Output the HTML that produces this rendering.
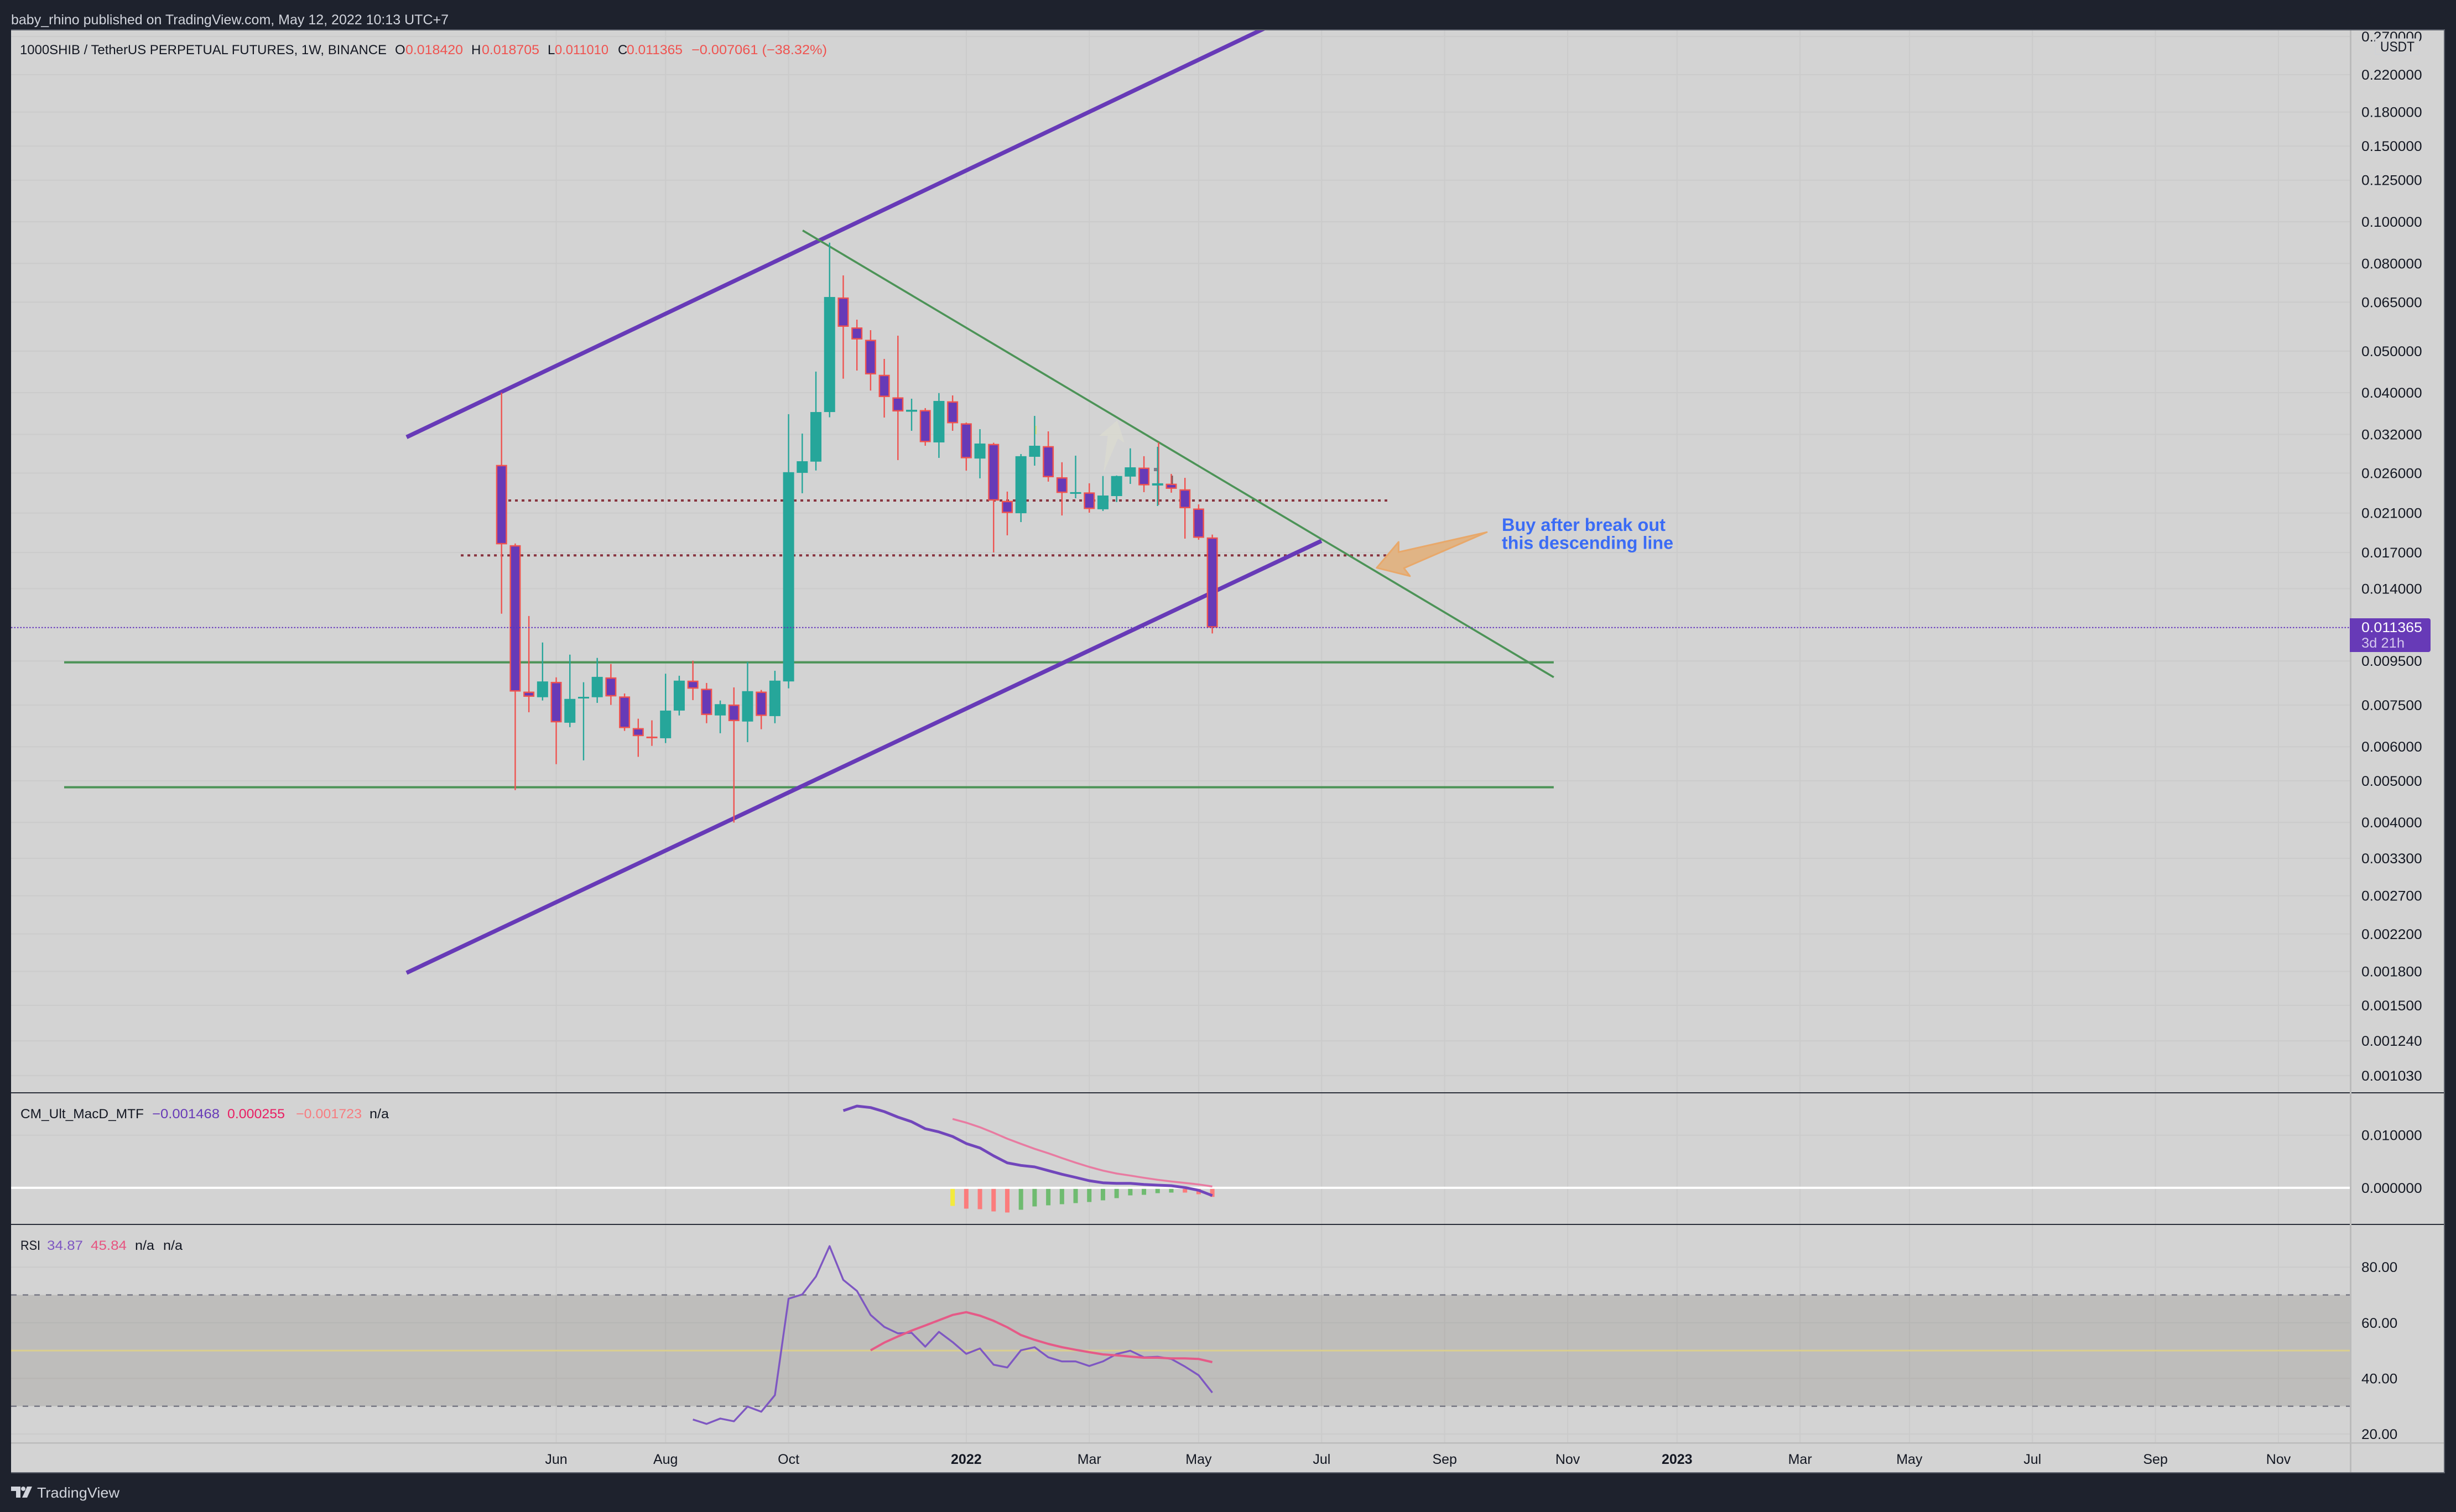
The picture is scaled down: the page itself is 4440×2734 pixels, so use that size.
<!DOCTYPE html>
<html lang="en">
<head>
<meta charset="utf-8">
<title>1000SHIB / TetherUS weekly chart</title>
<style>
html,body{margin:0;padding:0;background:#1e222d;width:4440px;height:2734px;overflow:hidden}
svg{display:block;font-family:"Liberation Sans",sans-serif}
text{white-space:pre}
</style>
</head>
<body>
<svg id="chart" xmlns="http://www.w3.org/2000/svg" width="4440" height="2734" viewBox="0 0 4440 2734">
  <defs>
    <clipPath id="main-clip"><rect x="20" y="55" width="4228" height="1920"/></clipPath>
  </defs>
  <rect x="0" y="0" width="4440" height="2734" fill="#1e222d"/>
  <text x="20" y="44" font-size="25" fill="#d1d4dc" textLength="791" lengthAdjust="spacingAndGlyphs">baby_rhino published on TradingView.com, May 12, 2022 10:13 UTC+7</text>
  <rect x="20" y="54" width="4399" height="2609" fill="#d3d3d3"/>
  <g id="grid"></g>
  <g id="rsi-band-layer"></g>
  <g id="drawings" clip-path="url(#main-clip)"></g>
  <polygon points="1995,855 2002.6,788 1987,788 2019.8,760 2033,800.7 2021,793" fill="#dcdbd0" opacity="0.7"/>
  <polygon points="2687.9,962.3 2528.4,998.3 2528.4,980 2488.9,1026.7 2548.9,1041.7 2538,1027.3" fill="#e0b485" stroke="#e8a86a" stroke-width="3" stroke-linejoin="round"/>
  <text x="2715" y="960" font-size="32" font-weight="bold" fill="#3b6cf5" textLength="296" lengthAdjust="spacingAndGlyphs">Buy after break out</text>
  <text x="2715" y="992.5" font-size="32" font-weight="bold" fill="#3b6cf5" textLength="310" lengthAdjust="spacingAndGlyphs">this descending line</text>
  <g id="candles"></g>
  <rect x="2086" y="846" width="6" height="6" fill="#7c7c88"/>
  <rect x="2118" y="860" width="2.5" height="15" fill="#86585c"/>
  <rect x="1872" y="770" width="1.5" height="15" fill="#e6e24a"/>
  <g id="macd"></g>
  <g id="rsi"></g>
  <g id="price-line-layer"></g>

  <rect x="20" y="1975" width="4399" height="2" fill="#2a2e39"/>
  <rect x="20" y="2213" width="4399" height="2" fill="#2a2e39"/>
  <rect x="4248" y="54" width="3" height="2609" fill="#bbbbbb"/>
  <rect x="20" y="2608" width="4399" height="2.5" fill="#bbbbbb"/>
  <rect x="20" y="53" width="4400" height="2" fill="#5b5f6a"/>
  <rect x="4418" y="54" width="2" height="2610" fill="#5b5f6a"/>
  <rect x="20" y="2662" width="4400" height="2" fill="#5b5f6a"/>

  <g id="axis-labels"></g>

  <rect x="4252" y="0" width="188" height="53" fill="#1e222d"/>
  <rect x="4294" y="70" width="79" height="28" fill="#d3d3d3" stroke="#cfd0d8" stroke-width="1"/>
  <text x="4303" y="93" font-size="25" fill="#131722" textLength="62" lengthAdjust="spacingAndGlyphs">USDT</text>
  <path d="M4248 1118H4390a4 4 0 0 1 4 4V1175a4 4 0 0 1 -4 4H4248Z" fill="#673ab7"/>
  <text x="4269" y="1143" font-size="25" fill="#ffffff" textLength="110" lengthAdjust="spacingAndGlyphs">0.011365</text>
  <text x="4269" y="1171" font-size="25" fill="#d5c8ee" textLength="78" lengthAdjust="spacingAndGlyphs">3d 21h</text>

  <g font-size="24">
    <text x="36" y="98" fill="#131722" textLength="663" lengthAdjust="spacingAndGlyphs">1000SHIB / TetherUS PERPETUAL FUTURES, 1W, BINANCE</text>
    <text x="714" y="98" fill="#131722">O</text>
    <text x="733" y="98" fill="#ef5350" textLength="104" lengthAdjust="spacingAndGlyphs">0.018420</text>
    <text x="852" y="98" fill="#131722">H</text>
    <text x="871" y="98" fill="#ef5350" textLength="104" lengthAdjust="spacingAndGlyphs">0.018705</text>
    <text x="990" y="98" fill="#131722">L</text>
    <text x="1003" y="98" fill="#ef5350" textLength="97" lengthAdjust="spacingAndGlyphs">0.011010</text>
    <text x="1117" y="98" fill="#131722">C</text>
    <text x="1133" y="98" fill="#ef5350" textLength="101" lengthAdjust="spacingAndGlyphs">0.011365</text>
    <text x="1250" y="98" fill="#ef5350" textLength="245" lengthAdjust="spacingAndGlyphs">−0.007061 (−38.32%)</text>
  </g>
  <g font-size="24">
    <text x="37" y="2022" fill="#131722" textLength="223" lengthAdjust="spacingAndGlyphs">CM_Ult_MacD_MTF</text>
    <text x="275" y="2022" fill="#673ab7" textLength="122" lengthAdjust="spacingAndGlyphs">−0.001468</text>
    <text x="411" y="2022" fill="#e91e63" textLength="104" lengthAdjust="spacingAndGlyphs">0.000255</text>
    <text x="535" y="2022" fill="#f77c80" textLength="119" lengthAdjust="spacingAndGlyphs">−0.001723</text>
    <text x="668" y="2022" fill="#131722" textLength="35" lengthAdjust="spacingAndGlyphs">n/a</text>
  </g>
  <g font-size="24">
    <text x="37" y="2260" fill="#131722" textLength="36" lengthAdjust="spacingAndGlyphs">RSI</text>
    <text x="85" y="2260" fill="#7e57c2" textLength="65" lengthAdjust="spacingAndGlyphs">34.87</text>
    <text x="164" y="2260" fill="#e75480" textLength="65" lengthAdjust="spacingAndGlyphs">45.84</text>
    <text x="244" y="2260" fill="#131722" textLength="35" lengthAdjust="spacingAndGlyphs">n/a</text>
    <text x="295" y="2260" fill="#131722" textLength="35" lengthAdjust="spacingAndGlyphs">n/a</text>
  </g>
  <g>
    <path d="M20 2688H37V2708H29V2696H20Z M49 2688H58L49 2708H40Z" fill="#d1d4dc"/>
    <circle cx="42" cy="2692" r="4" fill="#d1d4dc"/>
    <text x="67" y="2708" font-size="26" fill="#d1d4dc" textLength="149" lengthAdjust="spacingAndGlyphs">TradingView</text>
  </g>
</svg>

<script>
const opens=[.02717,.01767,.008063,.007823,.008494,.006823,.007772,.007823,.0087,.007857,.006631,.006335,.006279,.007283,.00855,.008187,.007095,.007523,.006867,.008063,.00707,.008514,.02604,.02765,.03607,.06665,.05677,.05313,.04404,.03903,.03613,.03646,.03065,.03821,.03396,.02811,.03041,.02241,.02097,.02838,.03005,.02543,.02334,.02345,.02142,.02299,.02552,.02678,.02433,.02457,.02384,.02151,.01842];
const highs=[.04002,.01783,.01209,.01049,.008702,.009829,.008477,.009658,.009348,.007981,.006972,.006912,.008874,.008777,.009514,.008444,.007687,.008246,.009451,.008134,.009014,.03566,.03214,.0448,.0894,.07502,.05918,.05594,.04795,.05431,.03874,.03684,.03993,.03943,.0341,.03291,.0306,.02355,.0288,.03533,.03252,.02756,.02855,.02462,.0256,.02567,.02969,.02847,.02994,.02589,.02535,.02199,.018705];
const lows=[.01224,.004755,.007218,.007687,.005465,.006663,.005577,.00759,.007507,.006532,.005684,.006027,.006119,.007095,.007703,.006806,.00645,.003996,.00615,.00659,.006806,.008204,.02334,.02637,.03507,.04313,.04505,.04047,.03502,.02788,.03262,.03011,.02821,.03262,.02635,.02528,.016995,.01863,.02,.02706,.02484,.02072,.02272,.02103,.02123,.02227,.02454,.02348,.0218,.02341,.0183,.01819,.01101];
const closes=[.01775,.008063,.00784,.008514,.006837,.007753,.00784,.008725,.007857,.006631,.00635,.006298,.007283,.00855,.008187,.007112,.007538,.006883,.008082,.007078,.00855,.02613,.02771,.03607,.06682,.05695,.05321,.04413,.03909,.03618,.03651,.03069,.03828,.03396,.02815,.03047,.02244,.02099,.02847,.03011,.02543,.02338,.02348,.02145,.02306,.0256,.02682,.02435,.02462,.0239,.02154,.01838,.011365];

const priceTicks=[0.27,0.22,0.18,0.15,0.125,0.1,0.08,0.065,0.05,0.04,0.032,0.026,0.021,0.017,0.014,0.0095,0.0075,0.006,0.005,0.004,0.0033,0.0027,0.0022,0.0018,0.0015,0.00124,0.00103];
const timeLabels=['Jun','Aug','Oct','2022','Mar','May','Jul','Sep','Nov','2023','Mar','May','Jul','Sep','Nov'];
const timeTickBars=[4,12,21,34,43,51,60,69,78,86,95,103,112,121,130];
const macdTicks=[0.01,0];
const rsiTicks=[80,60,40,20];
const lastPrice=0.011365;

const macdStartBar=25;
const macdValues=[.014665,.015541,.015261,.01449,.013438,.012562,.01123,.010634,.009758,.008426,.007585,.006078,.004746,.004255,.003975,.003274,.002573,.001977,.001346,.00096,.000855,.000855,.000645,.000505,.0004,.00005,-.000476,-.001468];
const signalStartBar=33;
const signalValues=[.013088,.012387,.011511,.01046,.009338,.008356,.00741,.006569,.005657,.004781,.003975,.003274,.002713,.002327,.001906,.001522,.001206,.000925,.000645,.000255];
const histStartBar=33;
const histValues=[-.003435,-.003961,-.004066,-.004487,-.004697,-.004171,-.00354,-.00333,-.00312,-.002909,-.002699,-.002383,-.001963,-.001437,-.001332,-.001016,-.000911,-.000911,-.001227,-.001723];
const histStates=['y','s','s','s','s','g','g','g','g','g','g','g','g','g','g','g','g','s','s','s'];

const rsiStartBar=14;
const rsiValues=[25.23,23.64,25.57,24.57,29.87,28.02,33.98,68.64,70.17,76.59,87.53,75.4,71.43,62.81,58.5,56.18,56.38,51.41,56.71,53.07,48.83,50.75,44.92,43.92,50.09,51.21,47.57,46.11,46.11,44.45,46.11,48.76,49.95,47.57,47.77,46.97,44.25,41.14,34.87];
const rsiMaStartBar=27;
const rsiMaValues=[50.09,52.87,55.06,57.18,59.03,60.89,62.81,63.8,62.54,60.69,58.37,55.59,53.86,52.41,51.21,50.28,49.42,48.63,48.3,47.83,47.44,47.44,47.17,47.17,46.97,45.84];
const rsiBandLevels=[70,30];
const rsiMidLevel=50;

const upperChannelBars=[-6.95,56.4];
const upperChannelPrices=[.03153,.2877];
const lowerChannelBars=[-6.95,59.98];
const lowerChannelPrices=[.001786,.01808];
const descendingLineBars=[22.03,76.98];
const descendingLinePrices=[.09545,.008707];
const supportLevels=[.009431,.004829];
const supportBars=[-32,76.98];
const dottedLevels=[.02245,.01673];
const dottedStartBars=[.5,-2.98];
const dottedEndBar=64.8;
const ghostWickBar=48.07;
const ghostWickPrices=[.03065,.02193];

function xOf(bar){return 906.7+24.71*bar;}
function yOf(price){return 401+337.4*Math.log(0.1/price);}
function yMacd(v){return 2147.8-v*9510;}
function yRsi(v){return 2593-(v-20)*5.03;}

const NS='http://www.w3.org/2000/svg';
function mk(tag,attrs,parent){
  const el=document.createElementNS(NS,tag);
  for(const k in attrs){el.setAttribute(k,attrs[k]);}
  parent.appendChild(el);
  return el;
}
const gridG=document.getElementById('grid');
const bandG=document.getElementById('rsi-band-layer');
const drawG=document.getElementById('drawings');
const candleG=document.getElementById('candles');
const macdG=document.getElementById('macd');
const rsiG=document.getElementById('rsi');
const plG=document.getElementById('price-line-layer');
const axisG=document.getElementById('axis-labels');
const GRID='#cbcbcb';
const AXIS_TEXT='#131722';

function numWidth(s){return (s.length-1)*14.8+6;}

priceTicks.forEach(function(p){
  const y=yOf(p);
  const line=mk('rect',{x:20,y:y-1,width:4228,height:2,fill:GRID},gridG);
  
  
  const label=p.toFixed(6);
  const t=mk('text',{x:4269,y:y+9,'font-size':25,fill:AXIS_TEXT,textLength:numWidth(label),lengthAdjust:'spacingAndGlyphs'},axisG);
  t.textContent=label;
  
  
});
macdTicks.forEach(function(v){
  const y=yMacd(v);
  const line=mk('rect',{x:20,y:y-1,width:4228,height:2,fill:GRID},gridG);
  
  
  const label=v.toFixed(6);
  const t=mk('text',{x:4269,y:y+9,'font-size':25,fill:AXIS_TEXT,textLength:numWidth(label),lengthAdjust:'spacingAndGlyphs'},axisG);
  t.textContent=label;
  
  
});
rsiTicks.forEach(function(v){
  const y=yRsi(v);
  const line=mk('rect',{x:20,y:y-1,width:4228,height:2,fill:GRID},gridG);
  
  
  const label=v.toFixed(2);
  const t=mk('text',{x:4269,y:y+9,'font-size':25,fill:AXIS_TEXT,textLength:numWidth(label),lengthAdjust:'spacingAndGlyphs'},axisG);
  t.textContent=label;
  
  
});
timeTickBars.forEach(function(b,i){
  const x=xOf(b);
  const line=mk('rect',{x:x-1,y:54,width:2,height:2554,fill:GRID},gridG);
  
  
  const isYear=/^\d/.test(timeLabels[i]);
  const t=mk('text',{x:x,y:2647,'font-size':25,fill:AXIS_TEXT,'text-anchor':'middle','font-weight':isYear?'bold':'normal'},axisG);
  t.textContent=timeLabels[i];
  
  
});

/* RSI band */
const band=mk('rect',{x:20,y:yRsi(rsiBandLevels[0]),width:4228,height:yRsi(rsiBandLevels[1])-yRsi(rsiBandLevels[0]),fill:'rgba(101,96,86,0.19)'},bandG);


rsiBandLevels.forEach(function(v){
  const l=mk('line',{x1:20,x2:4248,y1:yRsi(v),y2:yRsi(v),stroke:'#777884','stroke-width':2.5,'stroke-dasharray':'10 11'},bandG);
  
  
});
const mid=mk('rect',{x:20,y:yRsi(rsiMidLevel)-1.5,width:4228,height:3,fill:'#dbcf8e'},bandG);



/* drawings */
function drawLine(bars,prices,color,w){
  return mk('line',{x1:xOf(bars[0]),y1:yOf(prices[0]),x2:xOf(bars[1]),y2:yOf(prices[1]),stroke:color,'stroke-width':w},drawG);
}
supportLevels.forEach(function(p){
  const l=drawLine(supportBars,[p,p],'#4c9357',4);
  
  
});
dottedLevels.forEach(function(p,i){
  const l=drawLine([dottedStartBars[i],dottedEndBar],[p,p],'#88343f',4);
  l.setAttribute('stroke-dasharray','5 7');
  
  
});
const upLine=drawLine(upperChannelBars,upperChannelPrices,'#673ab7',7.5);


const lowLine=drawLine(lowerChannelBars,lowerChannelPrices,'#673ab7',7.5);


const descLine=drawLine(descendingLineBars,descendingLinePrices,'#4c9357',3.6);



/* ghost wick sits beneath the candles */
const ghost=mk('rect',{x:xOf(ghostWickBar)-1.2,y:yOf(ghostWickPrices[0]),width:2.4,height:yOf(ghostWickPrices[1])-yOf(ghostWickPrices[0]),fill:'#ef5350'},candleG);



/* candles */
opens.forEach(function(o,i){
  const c=closes[i],x=xOf(i),up=c>=o;
  const wickColor=up?'#26a69a':'#ef5350';
  const wick=mk('rect',{x:x-1.2,y:yOf(highs[i]),width:2.4,height:yOf(lows[i])-yOf(highs[i]),fill:wickColor},candleG);
  
  
  const top=yOf(Math.max(o,c)),bot=yOf(Math.min(o,c));
  let h=Math.max(bot-top,3);
  let body;
  if(up){
    body=mk('rect',{x:x-10,y:top,width:20,height:h,fill:'#26a69a'},candleG);
  }else if(h<=5){
    body=mk('rect',{x:x-10,y:top,width:20,height:h,fill:'#ef5350'},candleG);
  }else{
    body=mk('rect',{x:x-8.75,y:top+1.25,width:17.5,height:h-2.5,fill:'#673ab7',stroke:'#ef5350','stroke-width':2.5},candleG);
  }
  
  
});

/* last price line */
const pl=mk('line',{x1:20,x2:4248,y1:yOf(lastPrice),y2:yOf(lastPrice),stroke:'#5f30bd','stroke-width':2,'stroke-dasharray':'2.5 3'},plG);



/* MACD */
const zero=mk('rect',{x:20,y:yMacd(0)-2,width:4228,height:4,fill:'#ffffff'},macdG);


const histColors={y:'#f3ea3c',s:'#fb7c7c',g:'#6fbb70'};
histValues.forEach(function(v,i){
  const x=xOf(histStartBar+i);
  const r=mk('rect',{x:x-4,y:yMacd(0)+2,width:8,height:Math.max(yMacd(v)-yMacd(0)-2,1),fill:histColors[histStates[i]]},macdG);
  
  
});
function polyPoints(values,start,xf,yf){
  return values.map(function(v,i){return xf(start+i).toFixed(1)+','+yf(v).toFixed(1);}).join(' ');
}
const macdLine=mk('polyline',{points:polyPoints(macdValues,macdStartBar,xOf,yMacd),fill:'none',stroke:'#7146bb','stroke-width':5,'stroke-linejoin':'round'},macdG);


const sigLine=mk('polyline',{points:polyPoints(signalValues,signalStartBar,xOf,yMacd),fill:'none',stroke:'#e87ba1','stroke-width':3.5,'stroke-linejoin':'round'},macdG);



/* RSI */
const rsiLine=mk('polyline',{points:polyPoints(rsiValues,rsiStartBar,xOf,yRsi),fill:'none',stroke:'#7e57c2','stroke-width':3.4,'stroke-linejoin':'round'},rsiG);


const rsiMaLine=mk('polyline',{points:polyPoints(rsiMaValues,rsiMaStartBar,xOf,yRsi),fill:'none',stroke:'#e55a87','stroke-width':4,'stroke-linejoin':'round'},rsiG);


</script>
</body>
</html>
